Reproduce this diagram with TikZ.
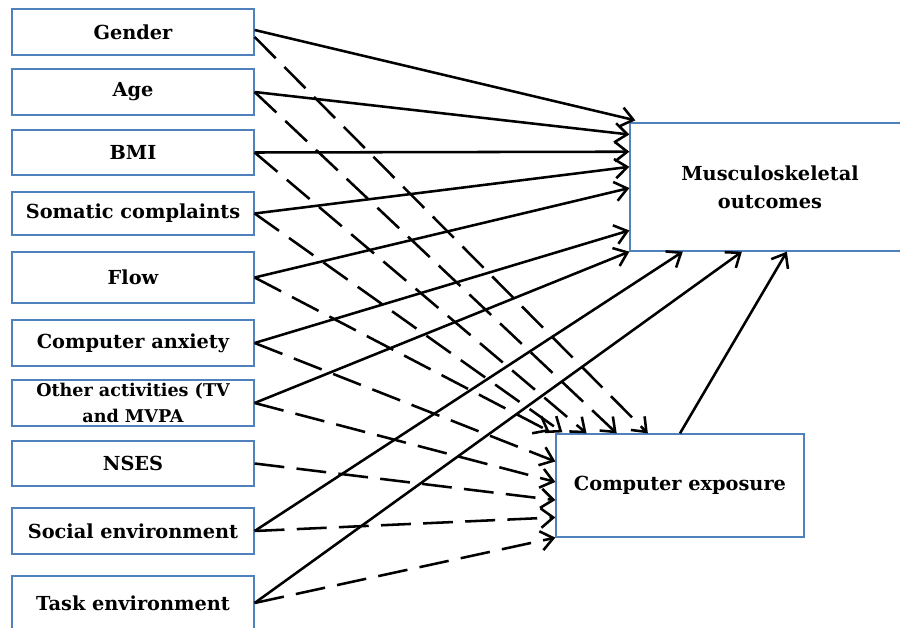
\documentclass[tikz,border=0pt]{standalone}
\usepackage{fontspec}
\setmainfont{DejaVu Serif}
\usetikzlibrary{arrows.meta,calc}
\definecolor{boxblue}{HTML}{4F81BD}
\begin{document}
\begin{tikzpicture}[x=0.02cm,y=-0.02cm,
  box/.style={draw=boxblue, line width=0.75pt, inner sep=0pt, align=center,
    font=\bfseries\fontsize{11}{13}\selectfont},
  leftbox/.style={box, minimum width=4.84cm},
  link/.style={line width=1.45pt,
    -{Straight Barb[length=7pt,width=11pt,line width=1.45pt]}},
  solidlink/.style={link},
  dashlink/.style={link, dash pattern=on 17pt off 7pt}]
\useasboundingbox (0,0) rectangle (900,628);
\clip (0,0) rectangle (900,628);

% predictor boxes
\node[leftbox, minimum height=0.92cm] (gender)  at (133,32)    {Gender};
\node[leftbox, minimum height=0.92cm] (age)     at (133,92)    {Age};
\node[leftbox, minimum height=0.90cm] (bmi)     at (133,152.5) {BMI};
\node[leftbox, minimum height=0.86cm] (somatic) at (133,213.5) {Somatic complaints};
\node[leftbox, minimum height=1.02cm] (flow)    at (133,277.5) {Flow};
\node[leftbox, minimum height=0.92cm] (anxiety) at (133,343)   {Computer anxiety};
\node[leftbox, minimum height=0.92cm,
      font=\bfseries\fontsize{10}{15}\selectfont] (other) at (133,403) {Other activities (TV\\and MVPA};
\node[leftbox, minimum height=0.90cm] (nses)    at (133,463.5) {NSES};
\node[leftbox, minimum height=0.92cm] (social)  at (133,531)   {Social environment};
\node[leftbox, minimum height=1.08cm] (task)    at (133,603)   {Task environment};

% outcome boxes
\node[box, minimum width=5.6cm, minimum height=2.56cm,
      font=\bfseries\fontsize{11}{16}\selectfont] (mo) at (770,187) {Musculoskeletal\\outcomes};
\node[box, minimum width=4.96cm, minimum height=2.06cm] (ce) at (680,485.5) {Computer exposure};

% direct paths to musculoskeletal outcomes
\draw[solidlink] ($(gender.east)+(0,-2)$) -- ($(mo.north west)+(6,-2)$);
\draw[solidlink] (age.east)     -- ($(mo.north west)!0.094!(mo.south west)$);
\draw[solidlink] (bmi.east)     -- ($(mo.north west)!0.227!(mo.south west)$);
\draw[solidlink] (somatic.east) -- ($(mo.north west)!0.344!(mo.south west)$);
\draw[solidlink] (flow.east)    -- ($(mo.north west)!0.508!(mo.south west)$);
\draw[solidlink] (anxiety.east) -- ($(mo.north west)!0.836!(mo.south west)$);
\draw[solidlink] (other.east)   -- (mo.south west);
\draw[solidlink] (social.east)  -- ($(mo.south west)!0.19!(mo.south east)$);
\draw[solidlink] (task.east)    -- ($(mo.south west)!0.40!(mo.south east)$);
\draw[solidlink] (ce.north)     -- ($(mo.south west)!0.56!(mo.south east)$);

% paths to computer exposure
\draw[dashlink] ($(gender.east)+(0,5)$) -- ($(ce.north west)!0.371!(ce.north east)$);
\draw[dashlink] (age.east)     -- ($(ce.north west)!0.246!(ce.north east)$);
\draw[dashlink] (bmi.east)     -- ($(ce.north west)!0.125!(ce.north east)$);
\draw[dashlink] (somatic.east) -- ($(ce.north west)+(7,-1)$);
\draw[dashlink] (flow.east)    -- ($(ce.north west)+(-6,-2)$);
\draw[dashlink] (anxiety.east) -- ($(ce.north west)!0.27!(ce.south west)$);
\draw[dashlink] (other.east)   -- ($(ce.north west)!0.466!(ce.south west)$);
\draw[dashlink] (nses.east)    -- ($(ce.north west)!0.64!(ce.south west)$);
\draw[dashlink] (social.east)  -- ($(ce.north west)!0.806!(ce.south west)$);
\draw[dashlink] (task.east)    -- (ce.south west);
\end{tikzpicture}
\end{document}
